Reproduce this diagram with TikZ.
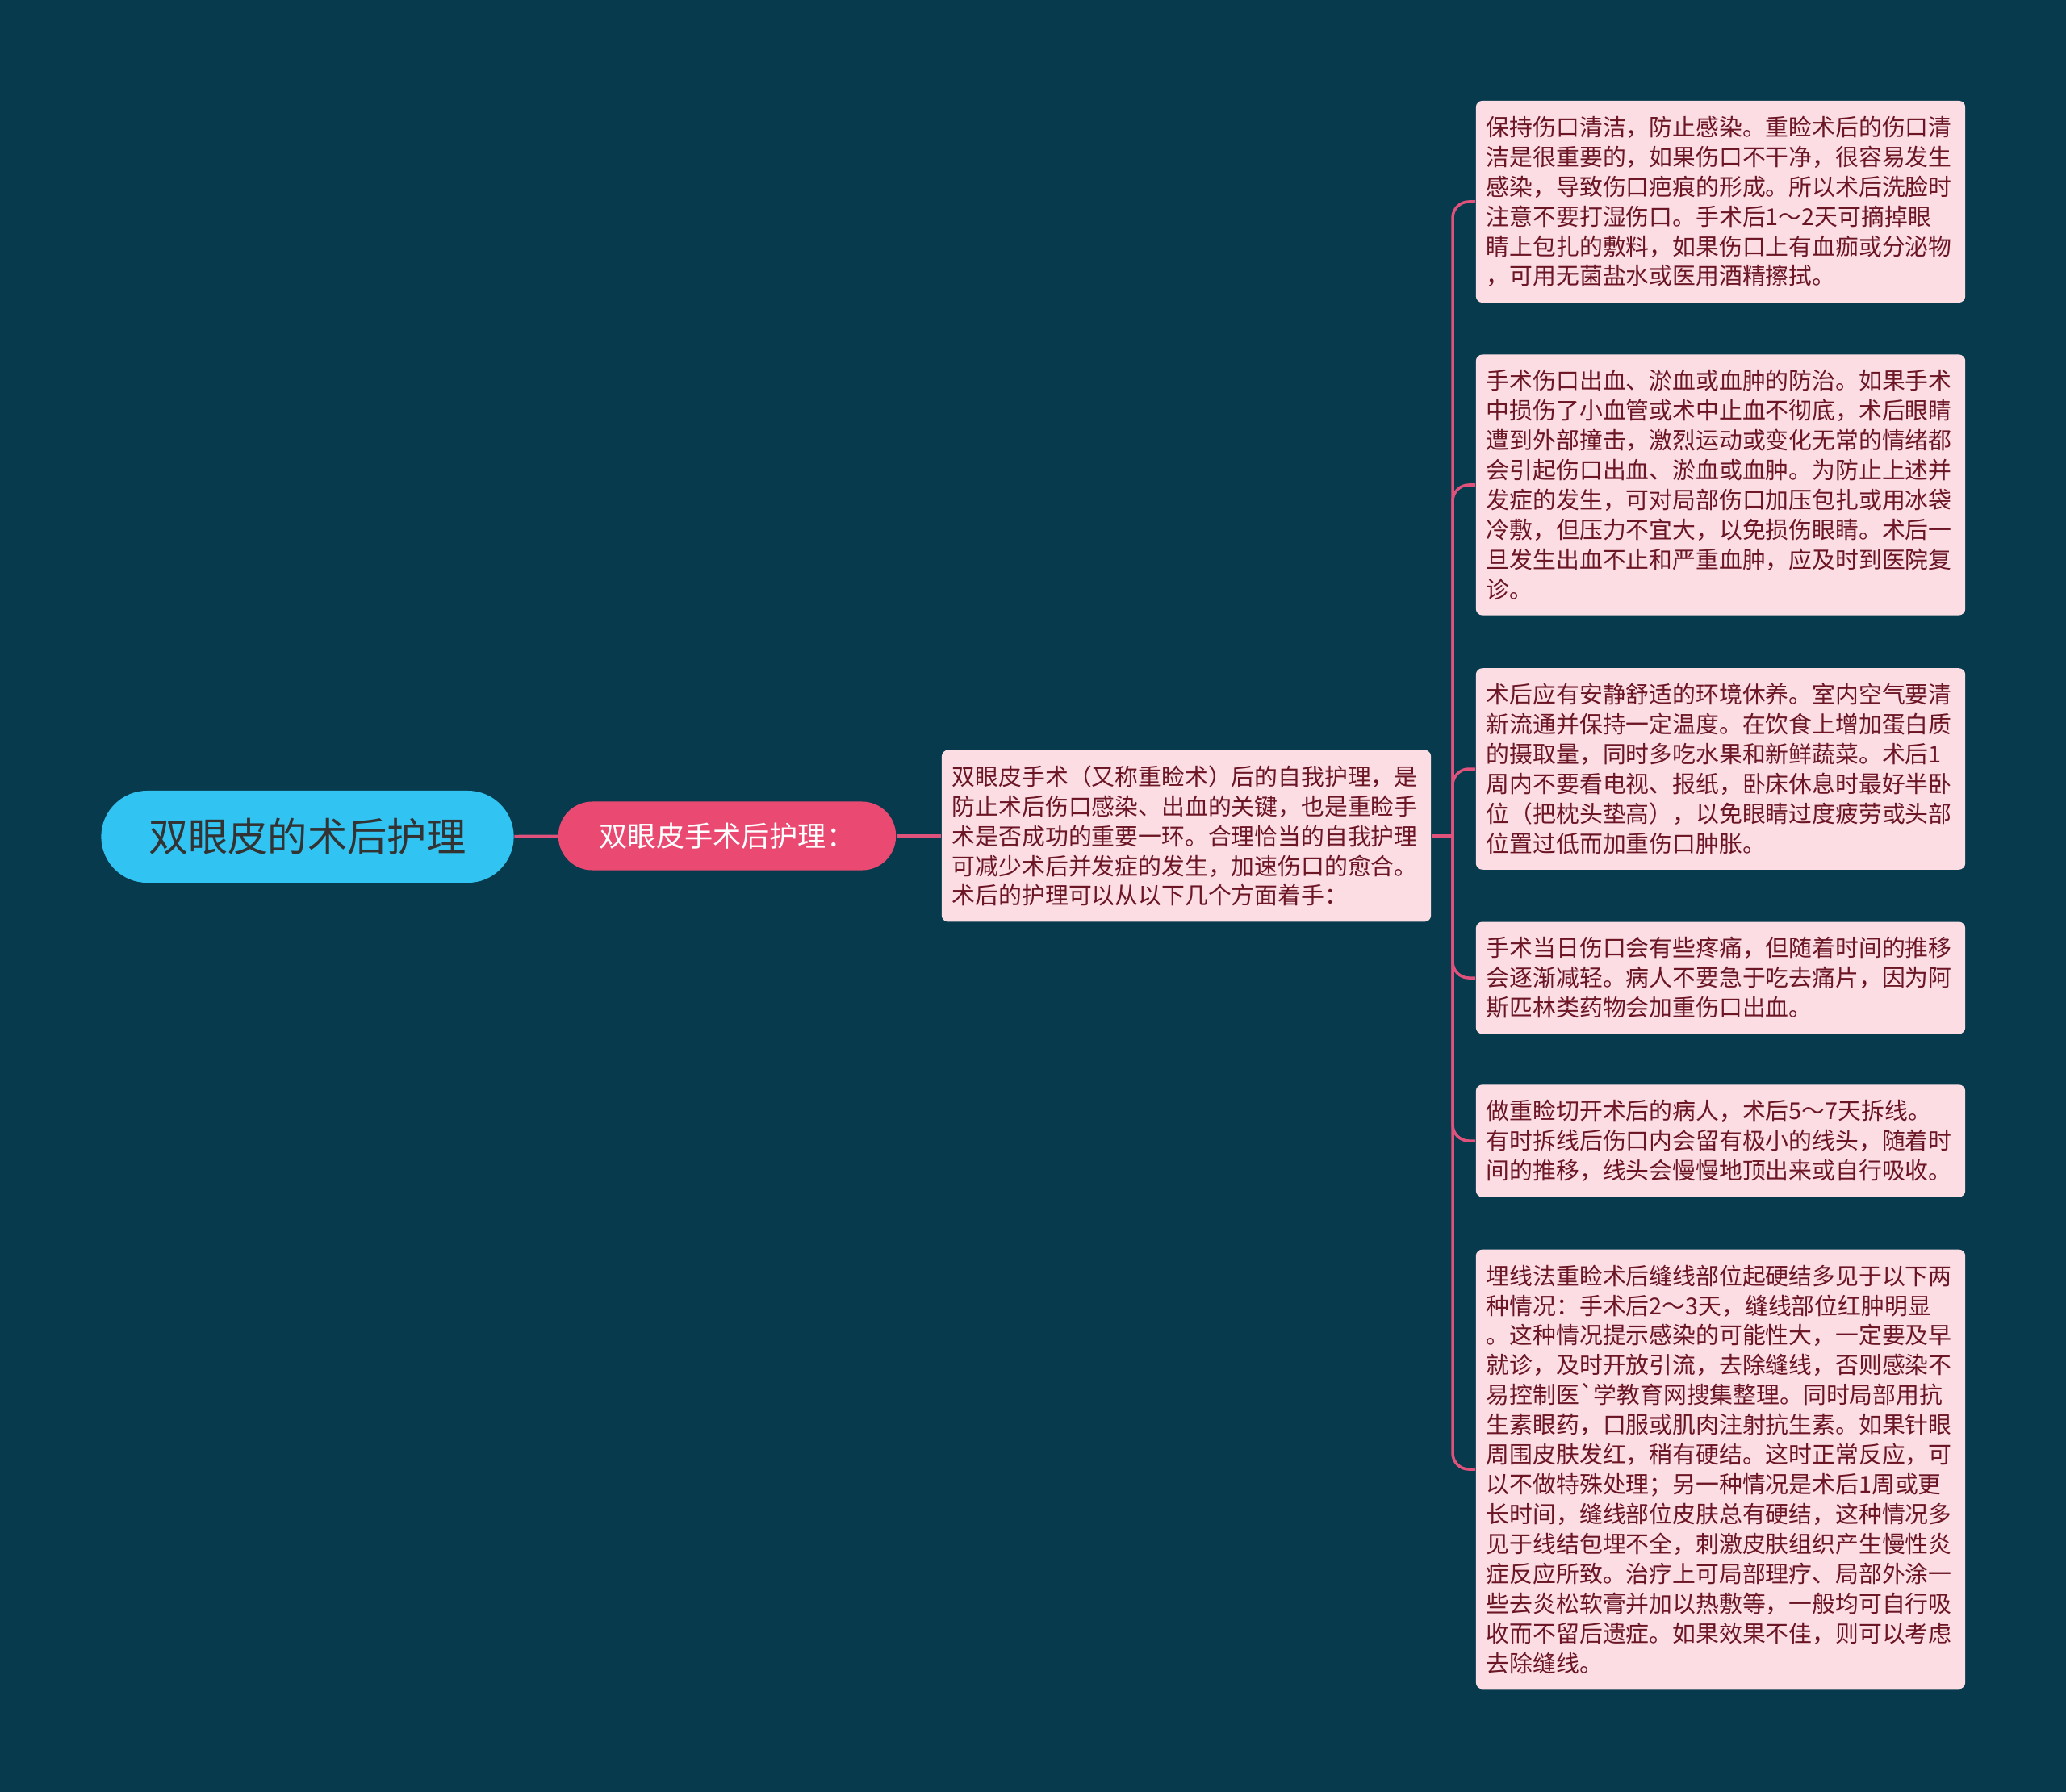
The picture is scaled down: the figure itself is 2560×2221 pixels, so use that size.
\documentclass[tikz,border=0pt]{standalone}
\usepackage{fontspec}
\newfontfamily\cjk{Noto Sans CJK SC}
\usepackage{tikz}
\usetikzlibrary{positioning}
\definecolor{bgteal}{HTML}{073A4D}
\definecolor{rootblue}{HTML}{31C4F3}
\definecolor{subred}{HTML}{EA4A72}
\definecolor{leafpink}{HTML}{FBDDE3}
\definecolor{leaftext}{HTML}{6B1525}
\definecolor{linkred}{HTML}{E0517B}

\begin{document}
\begin{tikzpicture}[
  x=0.01cm, y=-0.01cm,
  every node/.style={font=\cjk},
  root/.style={fill=rootblue, text=black!80, minimum width=5.11cm,
               minimum height=1.14cm, rounded corners=0.57cm,
               font=\cjk\fontsize{14}{16}\selectfont},
  sub/.style={fill=subred, text=white, minimum width=4.18cm,
              minimum height=0.85cm, rounded corners=0.42cm,
              font=\cjk\fontsize{10}{12}\selectfont},
  leaf/.style={fill=leafpink, text=leaftext, align=left, text width=5.8cm,
               inner xsep=0.13cm, inner ysep=0.19cm, rounded corners=0.08cm,
               font=\cjk\fontsize{8.2}{10.5}\selectfont},
  conn/.style={draw=linkred, line width=1pt, rounded corners=0.2cm},
]
  \fill[bgteal] (0,0) rectangle (2560,2221);
  \useasboundingbox (0,0) rectangle (2560,2221);

  \node[root] (care) at (381,1037) {双眼皮的术后护理};
  \node[sub] (op) at (901,1036) {双眼皮手术后护理：};
  \node[leaf] (intro) at (1470,1036)
       {双眼皮手术（又称重睑术）后的自我护理，是\\防止术后伤口感染、出血的关键，也是重睑手\\术是否成功的重要一环。合理恰当的自我护理\\可减少术后并发症的发生，加速伤口的愈合。\\术后的护理可以从以下几个方面着手：};
  \coordinate (hub) at (1800,1036);

  \node[leaf] (l1) at (2132,250)
       {保持伤口清洁，防止感染。重睑术后的伤口清\\洁是很重要的，如果伤口不干净，很容易发生\\感染，导致伤口疤痕的形成。所以术后洗脸时\\注意不要打湿伤口。手术后1～2天可摘掉眼\\睛上包扎的敷料，如果伤口上有血痂或分泌物\\，可用无菌盐水或医用酒精擦拭。};
  \node[leaf] (l2) at (2132,601)
       {手术伤口出血、淤血或血肿的防治。如果手术\\中损伤了小血管或术中止血不彻底，术后眼睛\\遭到外部撞击，激烈运动或变化无常的情绪都\\会引起伤口出血、淤血或血肿。为防止上述并\\发症的发生，可对局部伤口加压包扎或用冰袋\\冷敷，但压力不宜大，以免损伤眼睛。术后一\\旦发生出血不止和严重血肿，应及时到医院复\\诊。};
  \node[leaf] (l3) at (2132,953)
       {术后应有安静舒适的环境休养。室内空气要清\\新流通并保持一定温度。在饮食上增加蛋白质\\的摄取量，同时多吃水果和新鲜蔬菜。术后1\\周内不要看电视、报纸，卧床休息时最好半卧\\位（把枕头垫高），以免眼睛过度疲劳或头部\\位置过低而加重伤口肿胀。};
  \node[leaf] (l4) at (2132,1212)
       {手术当日伤口会有些疼痛，但随着时间的推移\\会逐渐减轻。病人不要急于吃去痛片，因为阿\\斯匹林类药物会加重伤口出血。};
  \node[leaf] (l5) at (2132,1414)
       {做重睑切开术后的病人，术后5～7天拆线。\\有时拆线后伤口内会留有极小的线头，随着时\\间的推移，线头会慢慢地顶出来或自行吸收。};
  \node[leaf] (l6) at (2132,1821)
       {埋线法重睑术后缝线部位起硬结多见于以下两\\种情况：手术后2～3天，缝线部位红肿明显\\。这种情况提示感染的可能性大，一定要及早\\就诊，及时开放引流，去除缝线，否则感染不\\易控制医\textasciigrave 学教育网搜集整理。同时局部用抗\\生素眼药，口服或肌肉注射抗生素。如果针眼\\周围皮肤发红，稍有硬结。这时正常反应，可\\以不做特殊处理；另一种情况是术后1周或更\\长时间，缝线部位皮肤总有硬结，这种情况多\\见于线结包埋不全，刺激皮肤组织产生慢性炎\\症反应所致。治疗上可局部理疗、局部外涂一\\些去炎松软膏并加以热敷等，一般均可自行吸\\收而不留后遗症。如果效果不佳，则可以考虑\\去除缝线。};

  \draw[conn] (care) -- (op);
  \draw[conn] (op) -- (intro);
  \draw[conn] (intro) -- (hub);
  \foreach \n in {l1,l2,l3,l4,l5,l6}
    \draw[conn] (hub) |- (\n.west);
\end{tikzpicture}
\end{document}
